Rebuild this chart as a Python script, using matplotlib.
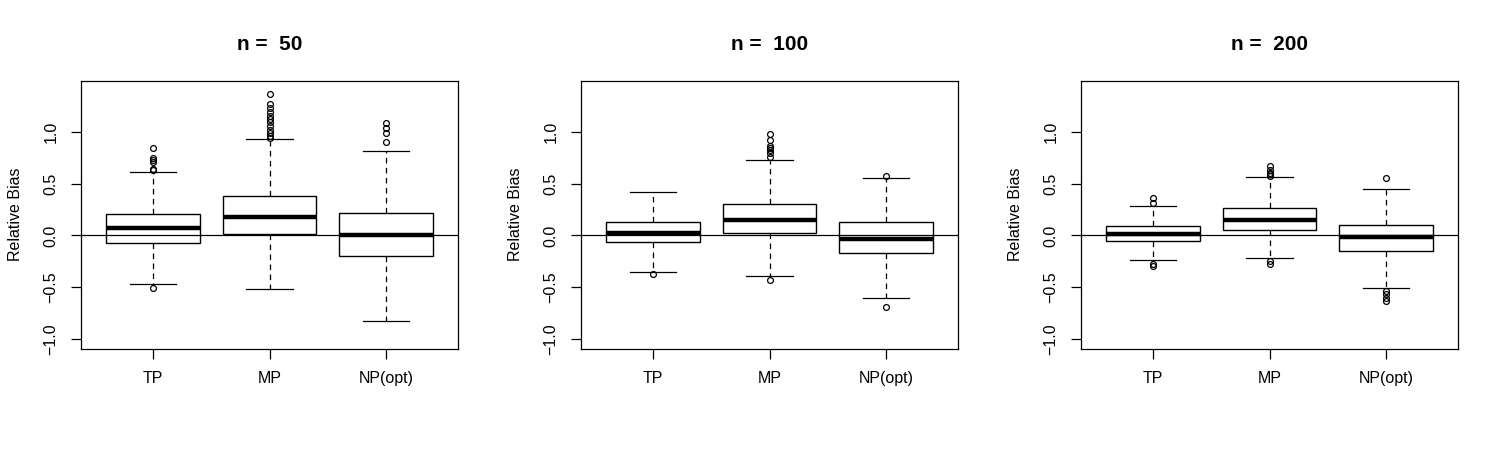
import matplotlib
matplotlib.use("Agg")
import matplotlib.pyplot as plt

plt.rcParams['font.family'] = ['Liberation Sans', 'DejaVu Sans']

methods = ["TP", "MP", "NP(opt)"]
sample_sizes = [50, 100, 200]

# n = 50
q1_n50 = [-0.071, 0.010, -0.200]
med_n50 = [0.074, 0.181, 0.006]
q3_n50 = [0.206, 0.377, 0.219]
whislo_n50 = [-0.471, -0.523, -0.826]
whishi_n50 = [0.613, 0.935, 0.816]
fliers_n50_tp = [0.842, 0.752, 0.729, 0.706, 0.642, 0.629, -0.513]
fliers_n50_mp = [1.371, 1.271, 1.229, 1.190, 1.158, 1.126, 1.094, 1.058, 1.019, 0.987, 0.961, 0.945]
fliers_n50_np = [1.090, 1.039, 0.990, 0.900]

# n = 100
q1_n100 = [-0.068, 0.019, -0.168]
med_n100 = [0.026, 0.152, -0.032]
q3_n100 = [0.129, 0.303, 0.126]
whislo_n100 = [-0.352, -0.397, -0.610]
whishi_n100 = [0.423, 0.729, 0.555]
fliers_n100_tp = [-0.371]
fliers_n100_mp = [0.977, 0.926, 0.865, 0.848, 0.826, 0.794, 0.758, -0.429]
fliers_n100_np = [0.571, -0.694]

# n = 200
q1_n200 = [-0.058, 0.055, -0.148]
med_n200 = [0.013, 0.145, -0.016]
q3_n200 = [0.087, 0.261, 0.097]
whislo_n200 = [-0.242, -0.223, -0.506]
whishi_n200 = [0.284, 0.568, 0.445]
fliers_n200_tp = [0.365, 0.316, -0.277, -0.297]
fliers_n200_mp = [0.671, 0.632, 0.606, 0.590, 0.577, -0.252, -0.277]
fliers_n200_np = [0.552, -0.535, -0.568, -0.606, -0.639]

panels = [
    (q1_n50, med_n50, q3_n50, whislo_n50, whishi_n50, [fliers_n50_tp, fliers_n50_mp, fliers_n50_np]),
    (q1_n100, med_n100, q3_n100, whislo_n100, whishi_n100, [fliers_n100_tp, fliers_n100_mp, fliers_n100_np]),
    (q1_n200, med_n200, q3_n200, whislo_n200, whishi_n200, [fliers_n200_tp, fliers_n200_mp, fliers_n200_np]),
]

fig = plt.figure(figsize=(15, 4.5), dpi=100)
lefts = [80.7, 580.7, 1080.7]
W, H = 1500.0, 450.0

for i, (q1, med, q3, wlo, whi, fl) in enumerate(panels):
    ax = fig.add_axes([lefts[i] / W, 1 - 348.7 / H, 377.6 / W, 268.0 / H])
    stats = []
    for j in range(3):
        stats.append(dict(med=med[j], q1=q1[j], q3=q3[j], whislo=wlo[j], whishi=whi[j], fliers=fl[j], label=methods[j]))
    ax.bxp(stats, positions=[1, 2, 3], widths=0.8, patch_artist=True,
           boxprops=dict(facecolor='white', edgecolor='black', linewidth=1.0),
           medianprops=dict(color='black', linewidth=3.2, solid_capstyle='butt'),
           whiskerprops=dict(color='black', linewidth=0.9, dashes=(4.5, 3.5)),
           capprops=dict(color='black', linewidth=0.9),
           capwidths=0.4,
           flierprops=dict(marker='o', markerfacecolor='none', markeredgecolor='black',
                           markersize=4.2, markeredgewidth=0.9, linestyle='none'))
    ax.axhline(0, color='black', linewidth=0.9, zorder=5)
    ax.set_xlim(0.38, 3.62)
    ax.set_ylim(-1.096, 1.496)
    ax.set_yticks([-1.0, -0.5, 0.0, 0.5, 1.0])
    ax.set_yticklabels(["\u22121.0", "\u22120.5", "0.0", "0.5", "1.0"], rotation=90, va='center')
    ax.set_xticks([1, 2, 3])
    ax.set_xticklabels(methods)
    ax.tick_params(axis='both', direction='out', length=7, width=0.9, labelsize=11.5, pad=9)
    for s in ax.spines.values():
        s.set_linewidth(0.9)
    ax.set_ylabel("Relative Bias", fontsize=11.5, labelpad=15)
    ax.set_title("n =  %d" % sample_sizes[i], fontsize=15, fontweight='bold', pad=22)

fig.savefig("out.png", dpi=100)
